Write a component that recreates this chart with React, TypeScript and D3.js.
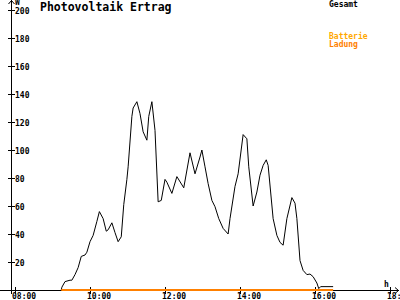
import React from "react";
import * as d3 from "d3";

const times: string[] = [
  "09:14","09:15","09:20","09:28","09:31","09:36","09:41","09:46","09:52","09:55",
  "10:00","10:05","10:11","10:15","10:21","10:26","10:29","10:35","10:40","10:45",
  "10:50","10:54","10:59","11:01","11:07","11:09","11:15","11:20","11:25","11:31",
  "11:34","11:39","11:44","11:49","11:54","12:00","12:03","12:11","12:19","12:30",
  "12:40","12:48","12:56","12:59","13:04","13:09","13:15","13:20","13:26","13:33",
  "13:41","13:44","13:52","13:57","14:05","14:11","14:14","14:21","14:27","14:32",
  "14:37","14:42","14:45","14:53","14:59","15:04","15:09","15:15","15:23","15:28",
  "15:31","15:36","15:41","15:47","15:52","15:57","16:03","16:06","16:09","16:29"
];
const gesamt: number[] = [
  0,2,6,7,7,11,16,24,25,27,
  34.5,39,49,56,51,42,43,48,41,34.5,
  38,61,79,88,124,130,134.5,126,113,107,
  124,134.5,114,63,64,79,77,69,81,73,
  98,83,95,100,88,76,64,59.5,51,44,
  40,51,74,83,111,108,88,60,70,82,
  89,93,89,51,39,34,32,51,66,62,
  51,21,14,11,11.4,9.5,5,1,2.4,2.4
];
const ladung: number[] = times.map(() => 0);

const xTicks: string[] = ["08:00", "10:00", "12:00", "14:00", "16:00", "18:00"];
const yTicks: number[] = [20, 40, 60, 80, 100, 120, 140, 160, 180, 200];

const toH = (s: string) => {
  const [h, m] = s.split(":").map(Number);
  return h + m / 60;
};

export default function App() {
  const x = d3.scaleLinear().domain([8, 18]).range([15, 390]);
  const y = d3.scaleLinear().domain([0, 200]).range([290, 10]);
  const font = "'DejaVu Sans Mono', monospace";

  const line = d3
    .line<number>()
    .x((_, i) => x(toH(times[i])))
    .y((d) => y(d));

  const ax = 11.5;
  const ay = 290.5;

  return (
    <svg
      width={400}
      height={300}
      style={{ position: "absolute", left: 0, top: 0, background: "#fff" }}
    >
      <rect x={0} y={0} width={400} height={300} fill="#fff" />
      <g stroke="#000" strokeWidth={1} shapeRendering="crispEdges">
        <line x1={ax} y1={0} x2={ax} y2={294} />
        <line x1={0} y1={ay} x2={399} y2={ay} />
        {yTicks.map((t) => (
          <line key={t} x1={8} x2={15} y1={Math.round(y(t)) + 0.5} y2={Math.round(y(t)) + 0.5} />
        ))}
        {xTicks.map((t) => (
          <line key={t} x1={Math.round(x(toH(t))) + 0.5} x2={Math.round(x(toH(t))) + 0.5} y1={287} y2={294} />
        ))}
      </g>
      <path d={`M${ax - 3},4 L${ax},0.5 L${ax + 3},4`} fill="none" stroke="#000" strokeWidth={1} />
      <path d={`M395,${ay - 3} L398.5,${ay} L395,${ay + 3}`} fill="none" stroke="#000" strokeWidth={1} />
      <g fontFamily={font} fontSize={8} fontWeight="bold" fill="#000">
        {yTicks.map((t) => (
          <text key={t} x={15} y={y(t) + 3.5}>
            {t}
          </text>
        ))}
        <text x={15} y={5}>W</text>
        <text x={384} y={287}>h</text>
        {xTicks.map((t) => (
          <text key={t} x={x(toH(t)) - 3} y={299}>
            {t}
          </text>
        ))}
      </g>
      <text x={40} y={11} fontFamily={font} fontSize={11.5} fontWeight="bold" fill="#000">
        Photovoltaik Ertrag
      </text>
      <g fontFamily={font} fontSize={8} fontWeight="bold">
        <text x={329} y={7} fill="#000">Gesamt</text>
        <text x={329} y={39} fill="#FFA800">Batterie</text>
        <text x={329} y={47} fill="#FF8000">Ladung</text>
      </g>
      <path d={line(gesamt) || ""} fill="none" stroke="#000" strokeWidth={1} />
      <path d={line(ladung) || ""} fill="none" stroke="#FF8000" strokeWidth={2} />
    </svg>
  );
}
